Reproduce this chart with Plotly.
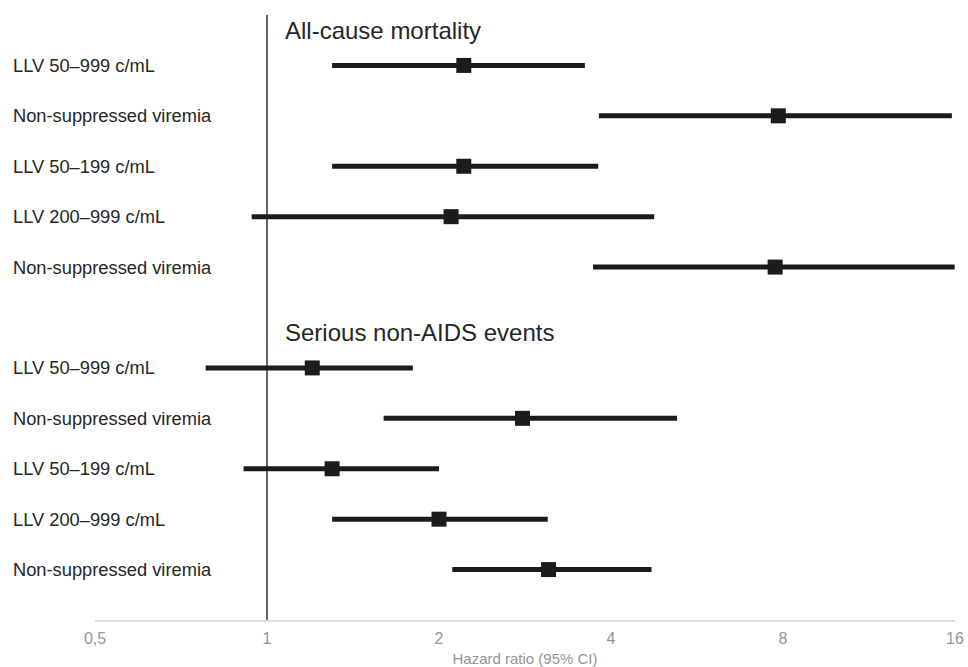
import plotly.graph_objects as go

# ---- data ----
group_titles = ["All-cause mortality", "Serious non-AIDS events"]
labels_mortality = ["LLV 50–999 c/mL", "Non-suppressed viremia", "LLV 50–199 c/mL",
                    "LLV 200–999 c/mL", "Non-suppressed viremia"]
hr_mortality = [2.21, 7.85, 2.21, 2.10, 7.75]
lo_mortality = [1.30, 3.81, 1.30, 0.94, 3.72]
hi_mortality = [3.60, 15.8, 3.80, 4.76, 15.98]

labels_snae = ["LLV 50–999 c/mL", "Non-suppressed viremia", "LLV 50–199 c/mL",
               "LLV 200–999 c/mL", "Non-suppressed viremia"]
hr_snae = [1.20, 2.80, 1.30, 2.00, 3.11]
lo_snae = [0.781, 1.60, 0.91, 1.30, 2.11]
hi_snae = [1.80, 5.22, 2.00, 3.10, 4.71]

tick_vals = [0.5, 1, 2, 4, 8, 16]
tick_text = ["0,5", "1", "2", "4", "8", "16"]
x_title = "Hazard ratio (95% CI)"

# ---- build rows ----
rows_mort = list(range(0, 5))
rows_snae = list(range(6, 11))
groups = [
    (labels_mortality, hr_mortality, lo_mortality, hi_mortality, rows_mort),
    (labels_snae, hr_snae, lo_snae, hi_snae, rows_snae),
]

ink = "#1c1c1c"
fig = go.Figure()
for labels, hr, lo, hi, rows in groups:
    fig.add_trace(go.Scatter(
        x=hr, y=rows, mode="markers",
        marker=dict(symbol="square", size=15, color=ink),
        error_x=dict(type="data", symmetric=False,
                     array=[h - m for h, m in zip(hi, hr)],
                     arrayminus=[m - l for m, l in zip(hr, lo)],
                     color=ink, thickness=5, width=0),
        showlegend=False, hoverinfo="skip",
    ))

annotations = []
font_family = "Liberation Sans, Arial, Helvetica, sans-serif"
for labels, hr, lo, hi, rows in groups:
    for lab, r in zip(labels, rows):
        annotations.append(dict(
            x=-0.0977, xref="paper", y=r, yref="y", text=lab, showarrow=False,
            xanchor="left", yanchor="middle",
            font=dict(size=18.3, color="#262626", family=font_family)))
for title, rows in zip(group_titles, [rows_mort, rows_snae]):
    annotations.append(dict(
        x=0.2186, xref="paper", y=rows[0] - 0.7, yref="y", text=title, showarrow=False,
        xanchor="left", yanchor="middle",
        font=dict(size=24, color="#262626", family=font_family)))

fig.add_shape(type="line", x0=1, x1=1, xref="x", y0=0, y1=1, yref="paper",
              line=dict(color="#333333", width=1.5), layer="below")

fig.update_layout(
    width=968, height=667,
    margin=dict(l=95, r=13, t=15, b=47, autoexpand=False),
    plot_bgcolor="white", paper_bgcolor="white",
    font=dict(family=font_family),
    annotations=annotations,
    xaxis=dict(type="log", range=[-0.30103, 1.20412], automargin=False,
               tickvals=tick_vals, ticktext=tick_text,
               showgrid=False, zeroline=False,
               showline=True, linecolor="#dddddd", linewidth=2,
               ticks="", ticklen=0, ticklabelstandoff=3,
               tickfont=dict(size=16, color="#959595"),
               title=dict(text=x_title, font=dict(size=15, color="#959595"), standoff=14)),
    yaxis=dict(range=[11, -1], showgrid=False, zeroline=False, automargin=False,
               showticklabels=False, showline=False),
)

fig.write_html("out.html", config={"displayModeBar": False},
               post_script="document.body.style.margin='0';document.body.style.overflow='hidden';")
